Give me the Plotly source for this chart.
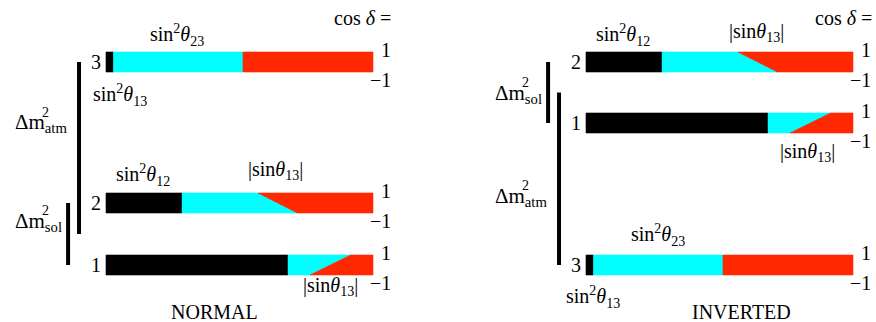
import plotly.graph_objects as go

# ---- data ----
states = ["1", "2", "3"]
# flavour content of each mass state (fraction of bar length)
e_frac = [0.682, 0.285, 0.028]          # black: nu_e  (sin^2 theta ...)
cut_top = [0.916, 0.569, 0.513]         # cyan/red boundary at cos(delta) = +1
cut_bottom = [0.764, 0.717, 0.513]      # cyan/red boundary at cos(delta) = -1
cos_delta_ticks = [1, -1]
# schematic mass levels (arbitrary units, bar half-height = 1)
levels_normal = [0.0, 6.2, 20.3]
levels_inverted = [14.2, 20.3, 0.0]

BLACK = "#000000"
CYAN = "#00FFFF"
RED = "#FF2800"
FONT = "Liberation Serif"
FS = 20

fig = go.Figure()


def poly(xs, ys, color, xaxis):
    fig.add_trace(go.Scatter(
        x=xs + [xs[0]], y=ys + [ys[0]], fill="toself", fillcolor=color,
        mode="lines", line=dict(color=color, width=0.6), xaxis=xaxis, yaxis="y",
        hoverinfo="skip", showlegend=False))


def draw_bars(levels, xaxis):
    for i, lv in enumerate(levels):
        lo, hi = lv + cos_delta_ticks[1], lv + cos_delta_ticks[0]
        e, t, b = e_frac[i], cut_top[i], cut_bottom[i]
        poly([0, e, e, 0], [lo, lo, hi, hi], BLACK, xaxis)
        poly([e, b, t, e], [lo, lo, hi, hi], CYAN, xaxis)
        poly([b, 1, 1, t], [lo, lo, hi, hi], RED, xaxis)


def vline(x, y0, y1, xaxis):
    fig.add_trace(go.Scatter(x=[x, x], y=[y0, y1], mode="lines",
                             line=dict(color=BLACK, width=4), xaxis=xaxis, yaxis="y",
                             hoverinfo="skip", showlegend=False))


draw_bars(levels_normal, "x")
draw_bars(levels_inverted, "x2")

# mass-splitting brackets
ln, li = levels_normal, levels_inverted
vline(-0.101, ln[2], (ln[0] + ln[1]) / 2, "x")
vline(-0.142, ln[1], ln[0], "x")
vline(-0.142, li[1], li[0], "x2")
vline(-0.101, (li[0] + li[1]) / 2, li[2], "x2")

ann = []


def txt(text, x, y, xref, size=FS, xanchor="center", yanchor="middle"):
    ann.append(dict(text=text, x=x, y=y, xref=xref, yref="y", showarrow=False,
                    xanchor=xanchor, yanchor=yanchor,
                    font=dict(family=FONT, size=size, color="black")))


s2 = "sin<sup>2</sup><i>θ</i><sub>%s</sub>"
abs13 = "|sin<i>θ</i><sub>13</sub>|"

for xr, levels in (("x", levels_normal), ("x2", levels_inverted)):
    for i, lv in enumerate(levels):
        txt(states[i], -0.012, lv, xr, xanchor="right")
        txt(str(cos_delta_ticks[0]), 1.075, lv + 1.25, xr, xanchor="right")
        txt("−1", 1.075, lv - 1.75, xr, xanchor="right")

# normal
txt("cos <i>δ</i> =", 0.96, 24.7, "x")
txt(s2 % "23", 0.266, 23.0, "x")
txt(s2 % "13", 0.052, 17.0, "x")
txt(s2 % "12", 0.139, 9.0, "x")
txt(abs13, 0.633, 9.5, "x")
txt(abs13, 0.839, -2.1, "x")
txt("NORMAL", 0.408, -4.7, "x")
txt("Δm<sub>atm</sub>", -0.35, 14.2, "x", xanchor="left", size=21)
txt("2", -0.226, 15.3, "x", size=14)
txt("Δm<sub>sol</sub>", -0.35, 4.3, "x", xanchor="left", size=21)
txt("2", -0.226, 5.5, "x", size=14)

# inverted
txt("cos <i>δ</i> =", 0.963, 24.7, "x2")
txt(s2 % "12", 0.139, 23.0, "x2")
txt(abs13, 0.64, 23.3, "x2")
txt(abs13, 0.831, 11.3, "x2")
txt(s2 % "23", 0.27, 3.0, "x2")
txt(s2 % "13", 0.026, -3.2, "x2")
txt("INVERTED", 0.584, -4.7, "x2")
txt("Δm<sub>sol</sub>", -0.35, 17.1, "x2", xanchor="left", size=21)
txt("2", -0.226, 18.3, "x2", size=14)
txt("Δm<sub>atm</sub>", -0.35, 6.8, "x2", xanchor="left", size=21)
txt("2", -0.226, 8.0, "x2", size=14)

noax = dict(visible=False, showgrid=False, zeroline=False, fixedrange=True)
fig.update_layout(
    width=876, height=322, margin=dict(l=0, r=0, t=0, b=0),
    paper_bgcolor="white", plot_bgcolor="white", showlegend=False,
    font=dict(family=FONT, size=FS, color="black"),
    xaxis=dict(domain=[0, 0.5], range=[-106 / 267, 332 / 267], anchor="y", **noax),
    xaxis2=dict(domain=[0.5, 1], range=[-148 / 267, 290 / 267], anchor="y", **noax),
    yaxis=dict(domain=[0, 1], range=[-5.7, 26.5], **noax),
    annotations=ann,
)

fig.write_html("out.html")
